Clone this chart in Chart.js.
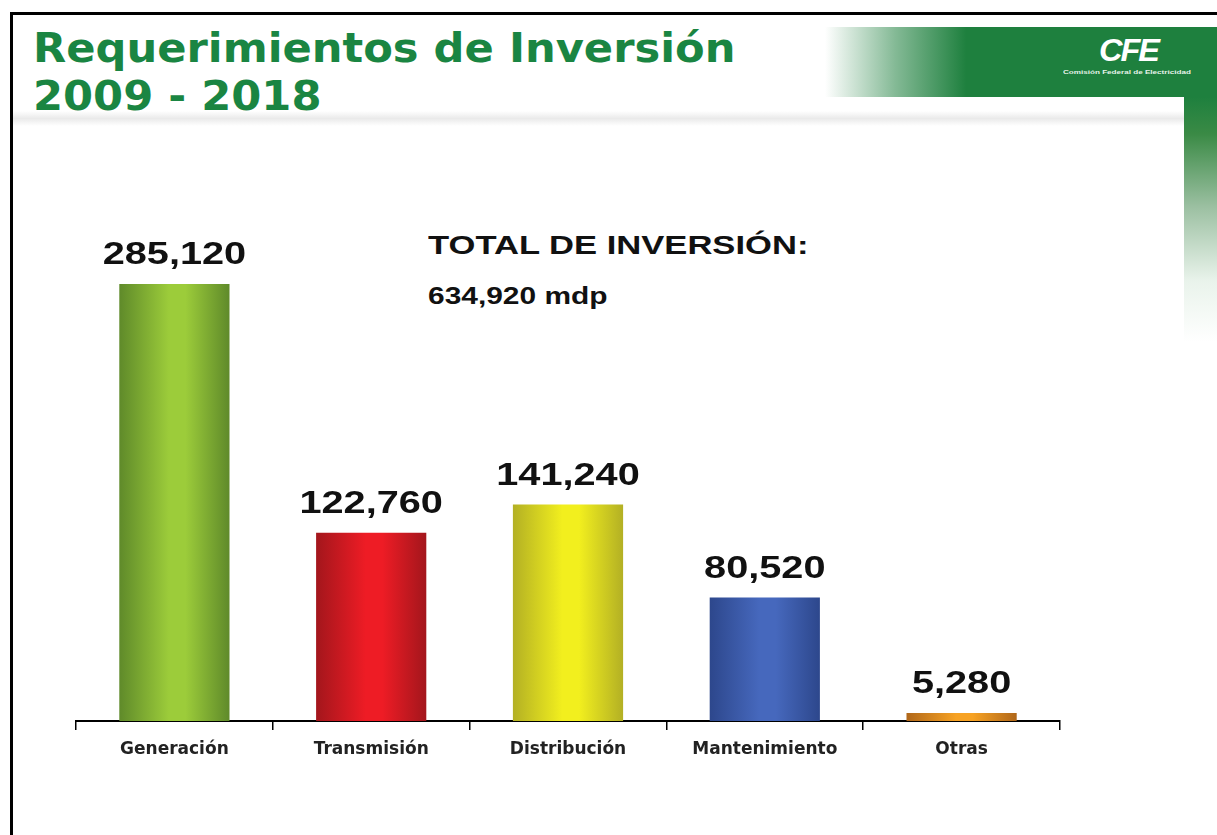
<!DOCTYPE html>
<html lang="es">
<head>
  <meta charset="UTF-8" />
  <title>Requerimientos de Inversión 2009 - 2018</title>
  <script src="https://cdn.jsdelivr.net/npm/chart.js"></script>
  <style>
    body {
      margin: 0;
      width: 1217px;
      height: 835px;
      position: relative;
      overflow: hidden;
      background: #fff;
      font-family: "Liberation Sans", Arial, sans-serif;
    }
    .frame {
      position: absolute;
      left: 10px;
      top: 12px;
      width: 1220px;
      height: 830px;
      border-left: 3px solid #000;
      border-top: 3px solid #000;
    }
    .band {
      position: absolute;
      left: 825px;
      top: 27px;
      width: 392px;
      height: 70px;
      background: linear-gradient(to right, rgba(30,128,62,0) 0%, rgba(30,128,62,0.55) 18%, #1e803e 36%, #1e803e 100%);
    }
    .side {
      position: absolute;
      left: 1184px;
      top: 97px;
      width: 33px;
      height: 245px;
      background: linear-gradient(to bottom, #1e803e 0%, #3a8a45 15%, rgba(90,150,100,0.6) 45%, rgba(200,225,205,0.4) 75%, rgba(255,255,255,0) 100%);
    }
    .shadow {
      position: absolute;
      left: 13px;
      top: 111px;
      width: 1171px;
      height: 15px;
      background: linear-gradient(to bottom, rgba(225,225,225,0) 0%, rgba(220,220,220,0.6) 50%, rgba(240,240,240,0) 100%);
    }
    .title {
      position: absolute;
      left: 33px;
      top: 24px;
      margin: 0;
      font-family: "DejaVu Sans", Verdana, sans-serif;
      font-weight: bold;
      font-size: 40px;
      line-height: 48px;
      color: #1a8542;
      transform: scaleX(1.08);
      transform-origin: left top;
      white-space: nowrap;
    }
    .logo {
      position: absolute;
      left: 1099px;
      top: 35px;
      color: #fff;
      font-weight: bold;
      font-style: italic;
      font-size: 31px;
      line-height: 31px;
      letter-spacing: -2px;
      transform: scaleX(1.05);
      transform-origin: left top;
    }
    .logo-sub {
      position: absolute;
      left: 1063px;
      top: 69px;
      color: #e8f3ea;
      font-size: 6px;
      font-weight: bold;
      line-height: 7px;
      transform: scaleX(1.35);
      transform-origin: left top;
      white-space: nowrap;
    }
    .total {
      position: absolute;
      left: 428px;
      color: #111;
      font-weight: bold;
      white-space: nowrap;
      transform-origin: left top;
    }
    #chart {
      position: absolute;
      left: 0;
      top: 0;
    }
  </style>
</head>
<body>
  <div class="shadow"></div>
  <div class="band"></div>
  <div class="side"></div>
  <div class="frame"></div>
  <h1 class="title">Requerimientos de Inversión<br>2009 - 2018</h1>
  <div class="logo">CFE</div>
  <div class="logo-sub">Comisión Federal de Electricidad</div>
  <div class="total" style="top:232px;font-size:26px;line-height:26px;transform:scaleX(1.33);">TOTAL DE INVERSIÓN:</div>
  <div class="total" style="top:285px;font-size:23px;line-height:23px;transform:scaleX(1.3);">634,920 mdp</div>
  <canvas id="chart" width="1217" height="835"></canvas>

  <script>
    const categories = ['Generación', 'Transmisión', 'Distribución', 'Mantenimiento', 'Otras'];
    const inversion = [285120, 122760, 141240, 80520, 5280];
    const centerColors = ['#9ccc3a', '#ee1c25', '#f2ef1e', '#4668bd', '#f7a223'];
    const edgeColors = ['#5f8a2a', '#a3161c', '#b3b024', '#2d478c', '#b0671a'];

    const barPct = 0.56;

    function barFill(c) {
      const chart = c.chart;
      const area = chart.chartArea;
      const i = c.dataIndex;
      if (!area || c.type !== 'data' || !chart.scales.x) return centerColors[i];
      const x = chart.scales.x.getPixelForValue(i);
      const half = chart.scales.x.width / categories.length * barPct / 2;
      const g = chart.ctx.createLinearGradient(x - half, 0, x + half, 0);
      g.addColorStop(0, edgeColors[i]);
      g.addColorStop(0.45, centerColors[i]);
      g.addColorStop(0.6, centerColors[i]);
      g.addColorStop(1, edgeColors[i]);
      return g;
    }

    // value labels above the bars, stretched like the slide
    const valueLabels = {
      id: 'valueLabels',
      afterDatasetsDraw(chart) {
        const ctx = chart.ctx;
        const meta = chart.getDatasetMeta(0);
        ctx.save();
        ctx.fillStyle = '#111';
        ctx.font = 'bold 31px "Liberation Sans", Arial, sans-serif';
        ctx.textAlign = 'center';
        ctx.textBaseline = 'alphabetic';
        meta.data.forEach((bar, i) => {
          ctx.save();
          ctx.translate(bar.x, bar.y - 20);
          ctx.scale(1.28, 1);
          ctx.fillText(inversion[i].toLocaleString('en-US'), 0, 0);
          ctx.restore();
        });
        ctx.restore();
      }
    };

    new Chart(document.getElementById('chart'), {
      type: 'bar',
      data: {
        labels: categories,
        datasets: [{
          data: inversion,
          backgroundColor: barFill,
          borderWidth: 0,
          barPercentage: barPct,
          categoryPercentage: 1
        }]
      },
      options: {
        responsive: false,
        animation: false,
        layout: {
          padding: { left: 76, right: 157, top: 108, bottom: 54 }
        },
        plugins: {
          legend: { display: false },
          tooltip: { enabled: false }
        },
        scales: {
          y: {
            display: false,
            min: 0,
            max: 400000
          },
          x: {
            afterFit: (scale) => { scale.height = 60; },
            border: { color: '#000', width: 2 },
            grid: {
              offset: true,
              drawOnChartArea: false,
              drawTicks: true,
              tickLength: 9,
              color: '#000',
              lineWidth: 1.5
            },
            ticks: {
              color: '#222',
              padding: 9,
              font: { family: '"DejaVu Sans", Verdana, sans-serif', weight: 'bold', size: 17 }
            }
          }
        }
      },
      plugins: [valueLabels]
    });
  </script>
</body>
</html>
